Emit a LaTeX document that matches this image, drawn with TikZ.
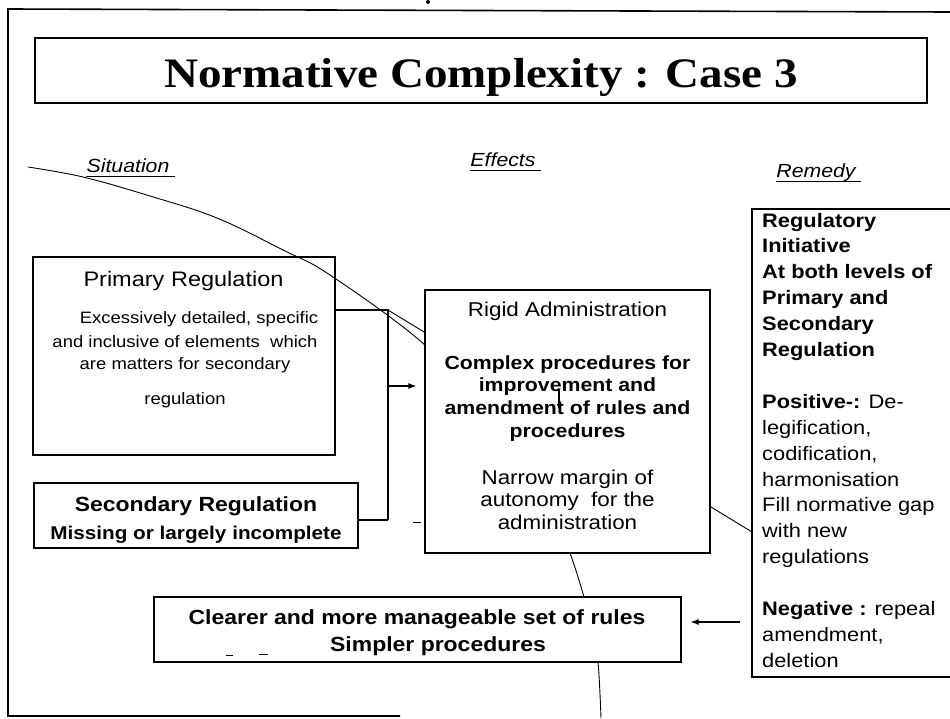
\documentclass[tikz,border=0pt]{standalone}
\usepackage{fontspec}
\setmainfont{Liberation Sans}[FakeStretch=1.12]
\newfontfamily\titlefont{Liberation Serif}[FakeStretch=1.12]
\usetikzlibrary{arrows.meta}
\newcommand\myfs[1]{\fontsize{#1}{#1}\selectfont}
\tikzset{
  frameline/.style={line width=1.6pt},
  box/.style={draw, line width=1.1pt, fill=white, inner sep=0pt},
  txt/.style={anchor=base, inner sep=0pt},
  ltxt/.style={anchor=base west, inner sep=0pt},
  conn/.style={line width=1.3pt},
  thinline/.style={line width=0.9pt},
  uline/.style={line width=0.9pt},
  tip/.style={-{Latex[length=8pt,width=6pt]}},
}
\begin{document}
\begin{tikzpicture}[x=1pt,y=-1pt]
\useasboundingbox (0,0) rectangle (950,718);
% outer frame
\coordinate (fTL) at (8,9);
\coordinate (fTR) at (950,12);
\coordinate (fBL) at (8,716);
\coordinate (fBR) at (400,716);
\draw[frameline] (fTR) -- (fTL) -- (fBL) -- (fBR);
\fill (428,2) circle (2pt);
% title
\node[box, minimum width=892pt, minimum height=65pt] (title) at (481,70.5) {};
\node[txt] (titletext) at (481,87) {\titlefont\bfseries\myfs{42}Normative Complexity : Case 3};
% headers
\node[txt] (hsit) at (128,172) {\myfs{19}\itshape Situation};
\node[txt] (heff) at (503,166) {\myfs{19}\itshape Effects};
\node[txt] (hrem) at (816,177) {\myfs{19}\itshape Remedy};
\foreach \h in {hsit,heff,hrem}
  \draw[uline] ([yshift=-4pt]\h.base west) -- ([yshift=-4pt,xshift=5pt]\h.base east);
% primary regulation
\node[box, minimum width=302pt, minimum height=198pt] (prim) at (184,356) {};
\node[txt] (prim1) at (183.5,286.5) {\myfs{21}Primary Regulation};
\node[txt] (prim2) at (199,323) {\myfs{16.5}Excessively detailed, specific};
\node[txt] (prim3) at (185,347) {\myfs{16.5}and inclusive of elements\ \ which};
\node[txt] (prim4) at (185,369) {\myfs{16.5}are matters for secondary};
\node[txt] (prim5) at (185,404) {\myfs{16.5}regulation};
% big curve (drawn over primary box, under the other boxes)
\draw[thinline] plot[smooth, tension=0.6] coordinates {(28,167) (83,177) (150,196) (217,218) (283,250) (330,275) (425,345) (500,425) (548,495) (570,553) (584,597) (592,630) (598,662) (601,718)};
% secondary regulation
\node[box, minimum width=324pt, minimum height=65pt] (sec) at (196,515.5) {};
\node[txt] (sec1) at (196,511) {\myfs{20.5}\bfseries Secondary Regulation};
\node[txt] (sec2) at (196,539.5) {\myfs{18.5}\bfseries Missing or largely incomplete};
% connectors from situation boxes
\coordinate (jn) at (388,310);
\coordinate (remhit) at (752,532);
\draw[conn] (prim.east |- jn) -- (jn) -- (jn |- 0,520);
\draw[line width=2.2pt] ([yshift=-4.5pt]sec.east) -- (jn |- 0,520);
\draw[thinline] (jn) -- (remhit);
% rigid administration
\node[box, minimum width=285pt, minimum height=263pt] (rig) at (567.5,421.5) {};
\draw[conn, tip] (jn |- 0,386) -- (rig.west |- 0,386) [shorten >=8pt];
\node[txt] (rig1) at (567.5,316) {\myfs{20}Rigid Administration};
\node[txt] (rig2) at (567.5,369) {\myfs{19}\bfseries Complex procedures for};
\node[txt] (rig3) at (567.5,391.7) {\myfs{19}\bfseries improvement and};
\node[txt] (rig4) at (567.5,414.4) {\myfs{19}\bfseries amendment of rules and};
\node[txt] (rig5) at (567.5,437.1) {\myfs{19}\bfseries procedures};
\node[txt] (rig6) at (567.5,484) {\myfs{20}Narrow margin of};
\node[txt] (rig7) at (567.5,506.5) {\myfs{20}autonomy\ \ for the};
\node[txt] (rig8) at (567.5,529) {\myfs{20}administration};
\draw[line width=2.5pt] (559,390) -- (559,408);
\draw[line width=0.8pt] (413,522) -- (421,522);
% clearer
\node[box, minimum width=527pt, minimum height=65pt] (clr) at (417.5,629.5) {};
\node[txt] (clr1) at (417,624) {\myfs{20.5}\bfseries Clearer and more manageable set of rules};
\node[txt] (clr2) at (438,651) {\myfs{20.5}\bfseries Simpler procedures};
\draw[line width=0.8pt] (226,655) -- (233,655);
\draw[line width=0.8pt] (259,654) -- (268,654);
% remedy
\node[box, minimum width=200pt, minimum height=468pt] (rem) at (852,443) {};
\foreach \k/\t in {0/{\bfseries Regulatory},1/{\bfseries Initiative},2/{\bfseries At both levels of},
  3/{\bfseries Primary and},4/{\bfseries Secondary},5/{\bfseries Regulation},
  7/{{\bfseries Positive-:} De-},8/{legification,},9/{codification,},10/{harmonisation},
  11/{Fill normative gap},12/{with new},13/{regulations},
  15/{{\bfseries Negative :} repeal},16/{amendment,},17/{deletion}}
  \node[ltxt] (rem\k) at (762,{227+25.9*\k}) {\myfs{19.5}\t};
\coordinate (arrtail) at (740,622);
\draw[conn, tip] (arrtail) -- (clr.east |- arrtail) [shorten >=9pt];
\end{tikzpicture}
\end{document}
